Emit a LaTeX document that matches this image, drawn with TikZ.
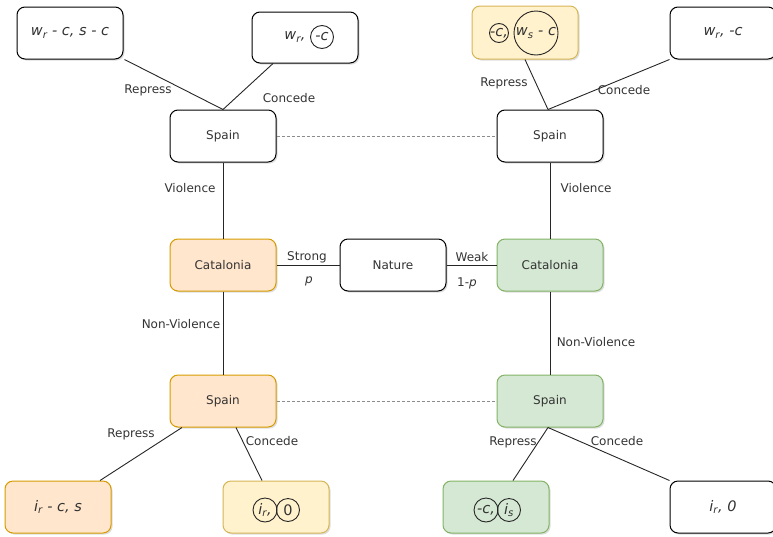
\documentclass[tikz,border=0pt]{standalone}
\usepackage{fontspec}
\setmainfont{DejaVu Sans}
\usetikzlibrary{shadows}

\definecolor{txt}{HTML}{333333}
\definecolor{orfill}{HTML}{FFE6CC}
\definecolor{ordraw}{HTML}{D79B00}
\definecolor{yefill}{HTML}{FFF2CC}
\definecolor{yedraw}{HTML}{D6B656}
\definecolor{grfill}{HTML}{D5E8D4}
\definecolor{grdraw}{HTML}{82B366}
\definecolor{dashc}{HTML}{8C8C8C}

\tikzset{
  box/.style={draw=black, fill=white, rounded corners=8pt,
    minimum width=106pt, minimum height=52pt, inner sep=0pt, line width=1pt,
    drop shadow={shadow xshift=1.5pt, shadow yshift=-1.5pt, opacity=0.22, fill=black!60}},
  orbox/.style={box, draw=ordraw, fill=orfill},
  yebox/.style={box, draw=yedraw, fill=yefill},
  grbox/.style={box, draw=grdraw, fill=grfill},
  pay/.style={font=\fontsize{14.5}{16}\selectfont\itshape},
  wire/.style={draw=black!85, line width=0.9pt},
  tie/.style={draw=dashc, line width=1pt, dash pattern=on 3pt off 2pt},
  lbl/.style={inner sep=0pt, text=txt},
  ring/.style={draw=black!85, circle, inner sep=0pt, line width=0.9pt, text=txt, pay},
}

\begin{document}
\begin{tikzpicture}[x=1pt, y=-1pt, font=\fontsize{12}{14}\selectfont, text=txt]
\useasboundingbox (0,0) rectangle (773,536);

% decision and chance nodes
\node[box]   (sTL) at (223,136) {Spain};
\node[box]   (sTR) at (550,136) {Spain};
\node[orbox] (cL)  at (223,265) {Catalonia};
\node[box]   (nat) at (393,265) {Nature};
\node[grbox] (cR)  at (550,265) {Catalonia};
\node[orbox] (sBL) at (223,401) {Spain};
\node[grbox] (sBR) at (550,401) {Spain};

% payoff boxes
\node[box, pay]   (pTL) at (70,33)    {w\textsubscript{r} - c, s - c};
\node[box, minimum height=51pt] (pTM) at (305,37.5) {};
\node[yebox, minimum height=53pt] (pTY) at (525,32.5) {};
\node[box, pay]   (pTW) at (723,33)   {w\textsubscript{r}, -c};
\node[orbox, pay] (pBL) at (58,507)   {i\textsubscript{r} - c, s};
\node[yebox] (pBY) at (276,507)  {};
\node[grbox] (pBG) at (496,507)  {};
\node[box, pay]   (pBW) at (723,507)  {i\textsubscript{r}, 0};

% payoff texts with circled entries
\node[lbl, pay] (tTM) at (295,37) {w\textsubscript{r},};
\node[ring, minimum size=23pt] (rTM) at (322,37) {\makebox[0pt]{-c}};
\node[ring, minimum size=19pt] (rTY1) at (499,33) {\makebox[0pt]{-c,}};
\node[ring, minimum size=44pt] (rTY2) at (536,33) {\makebox[0pt]{w\textsubscript{s} - c}};
\node[ring, minimum size=24pt] (rBY1) at (265,510) {\makebox[0pt]{i\textsubscript{r},}};
\node[ring, minimum size=23pt] (rBY2) at (288,510) {\makebox[0pt]{\upshape 0}};
\node[ring, minimum size=24pt] (rBG1) at (486,510) {\makebox[0pt]{-c,}};
\node[ring, minimum size=23pt] (rBG2) at (509,510) {\makebox[0pt]{i\textsubscript{s}}};

% connectors
\draw[wire] (sTL.north) -- ([xshift=1pt]pTL.south east);
\draw[wire] (sTL.north) -- ([xshift=-32pt]pTM.south);
\draw[wire] ([xshift=-2pt]sTR.north) -- (pTY.south);
\draw[wire] ([xshift=-2pt]sTR.north) -- (pTW.south west);
\draw[wire] (sTL.south) -- (cL.north);
\draw[wire] (sTR.south) -- (cR.north);
\draw[wire] (cL.east) -- (nat.west);
\draw[wire] (nat.east) -- (cR.west);
\draw[wire] (cL.south) -- (sBL.north);
\draw[wire] (cR.south) -- (sBR.north);
\draw[wire] ([xshift=-41pt]sBL.south) -- ([xshift=42pt]pBL.north);
\draw[wire] ([xshift=13pt]sBL.south) -- ([xshift=-14pt]pBY.north);
\draw[wire] ([xshift=-2pt]sBR.south) -- ([xshift=17pt]pBG.north);
\draw[wire] ([xshift=-2pt]sBR.south) -- (pBW.north west);

% information sets
\draw[tie] (sTL.east) -- (sTR.west);
\draw[tie] (sBL.east) -- (sBR.west);

% edge labels
\node[lbl] (lRep1) at (148,90)  {Repress};
\node[lbl] (lCon1) at (289,98)  {Concede};
\node[lbl] (lRep2) at (504,83)  {Repress};
\node[lbl] (lCon2) at (624,90)  {Concede};
\node[lbl] (lVio1) at (190,188) {Violence};
\node[lbl] (lVio2) at (586,188) {Violence};
\node[lbl] (lStr)  at (307,257) {Strong};
\node[lbl] (lp)    at (309,281) {\textit{p}};
\node[lbl] (lWeak) at (472,257) {Weak};
\node[lbl] (lq)    at (467,283) {1-\textit{p}};
\node[lbl] (lNV1)  at (181,324) {Non-Violence};
\node[lbl] (lNV2)  at (596,342) {Non-Violence};
\node[lbl] (lRep3) at (131,434) {Repress};
\node[lbl] (lCon3) at (272,441) {Concede};
\node[lbl] (lRep4) at (513,442) {Repress};
\node[lbl] (lCon4) at (617,441) {Concede};
\end{tikzpicture}
\end{document}
